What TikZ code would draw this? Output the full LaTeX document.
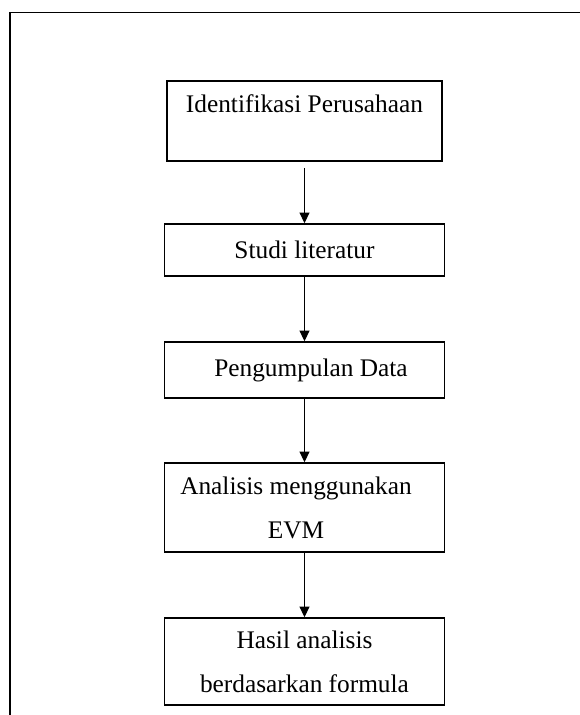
\documentclass[tikz,border=0pt]{standalone}
\usepackage{fontspec}
\setmainfont{Liberation Serif}
\usetikzlibrary{arrows.meta}

\tikzset{every picture/.style={line width=0.75pt}}
\tikzset{
	stepbox/.style={draw, line width=1.2pt, align=center, inner sep=0pt, minimum width=210pt,
		font=\fontsize{19}{33}\selectfont},
	flowline/.style={line width=0.9pt, -{Triangle[width=7.5pt,length=8pt]}}}

\begin{document}
\begin{tikzpicture}[x=0.75pt,y=0.75pt,yscale=-1,xscale=1]
	\useasboundingbox (0,0) rectangle (580,715);

	%Straight Lines [frame]
	\draw [line width=1.4pt]  (580,12.5) -- (10,12.5) -- (10,715) ;

	%Shape: Rectangle [ident]
	\node [stepbox, minimum width=206pt, text height=23.25pt, text depth=36.75pt] (ident) at (304.5,121) {Identifikasi Perusahaan};
	%Shape: Rectangle [studi]
	\node [stepbox, minimum height=39pt] (studi) at (304.5,250) {Studi literatur};
	%Shape: Rectangle [data]
	\node [stepbox, minimum height=42pt] (data) at (304.5,370) {\kern9.75pt Pengumpulan Data};
	%Shape: Rectangle [evm]
	\node [stepbox, minimum height=66.75pt] (evm) at (304.5,507.5) {Analisis menggunakan\kern12.75pt\\EVM\kern12.75pt};
	%Shape: Rectangle [hasil]
	\node [stepbox, minimum height=65.25pt] (hasil) at (304.5,661.5) {Hasil analisis\\berdasarkan formula};

	%Straight Lines [arrows]
	\draw [flowline, shorten <=4.5pt]  (ident) -- (studi) ;
	\draw [flowline]  (studi) -- (data) ;
	\draw [flowline]  (data) -- (evm) ;
	\draw [flowline]  (evm) -- (hasil) ;

\end{tikzpicture}
\end{document}
